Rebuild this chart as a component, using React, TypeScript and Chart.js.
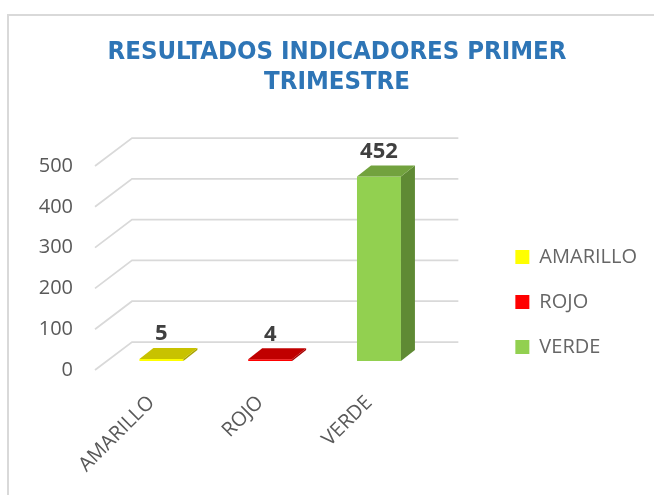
import React, { useEffect, useRef } from 'react';
import { Chart, registerables } from 'chart.js';

Chart.register(...registerables);

// ---- data ----
const categories = ['AMARILLO', 'ROJO', 'VERDE'];
const values = [5, 4, 452];
const frontColors = ['#FFFF00', '#FF0000', '#92D050'];
const topColors = ['#C8C200', '#C00000', '#72A23E'];
const sideColors = ['#A9A400', '#A30000', '#5F8A34'];
const yTicks = [0, 100, 200, 300, 400, 500];
const titleLines = ['RESULTADOS INDICADORES PRIMER', 'TRIMESTRE'];

// ---- pseudo 3D geometry (styling) ----
const WALL_DX = 37;
const WALL_DY = -28;
const BAR_SHIFT_X = 12;
const BAR_SHIFT_Y = -9;
const DEPTH_X = 14;
const DEPTH_Y = -11;

const pseudo3d = {
  id: 'pseudo3d',
  beforeDraw(chart: any) {
    const { ctx } = chart;
    ctx.save();
    ctx.strokeStyle = '#D9D9D9';
    ctx.lineWidth = 2;
    ctx.strokeRect(8, 15, 1000, 1000);
    ctx.restore();
  },
  beforeDatasetsDraw(chart: any) {
    const { ctx, chartArea, scales } = chart;
    const y = scales.y;
    ctx.save();
    ctx.strokeStyle = '#D9D9D9';
    ctx.lineWidth = 1.75;
    yTicks.forEach((v) => {
      const py = y.getPixelForValue(v);
      ctx.beginPath();
      ctx.moveTo(chartArea.left, py);
      ctx.lineTo(chartArea.left + WALL_DX, py + WALL_DY);
      ctx.lineTo(chartArea.right + WALL_DX, py + WALL_DY);
      ctx.stroke();
    });
    ctx.restore();
    ctx.save();
    ctx.translate(BAR_SHIFT_X, BAR_SHIFT_Y);
  },
  afterDatasetsDraw(chart: any) {
    const { ctx } = chart;
    const meta = chart.getDatasetMeta(0);
    meta.data.forEach((el: any, i: number) => {
      const { x, y, base, width } = el.getProps(['x', 'y', 'base', 'width'], true);
      const x0 = x - width / 2;
      const x1 = x + width / 2;
      // side face
      ctx.fillStyle = sideColors[i];
      ctx.beginPath();
      ctx.moveTo(x1, y);
      ctx.lineTo(x1 + DEPTH_X, y + DEPTH_Y);
      ctx.lineTo(x1 + DEPTH_X, base + DEPTH_Y);
      ctx.lineTo(x1, base);
      ctx.closePath();
      ctx.fill();
      // top face
      ctx.fillStyle = topColors[i];
      ctx.beginPath();
      ctx.moveTo(x0, y);
      ctx.lineTo(x1, y);
      ctx.lineTo(x1 + DEPTH_X, y + DEPTH_Y);
      ctx.lineTo(x0 + DEPTH_X, y + DEPTH_Y);
      ctx.closePath();
      ctx.fill();
      // value label
      ctx.fillStyle = '#404040';
      ctx.font = 'bold 22px "Open Sans", sans-serif';
      ctx.textAlign = 'center';
      ctx.textBaseline = 'middle';
      ctx.fillText(String(values[i]), x, y - 25);
    });
    ctx.restore();
  },
};

export default function App() {
  const ref = useRef<HTMLCanvasElement>(null);
  useEffect(() => {
    document.body.style.margin = '0';
    Chart.defaults.font.family = '"Open Sans", sans-serif';
    const chart = new Chart(ref.current as HTMLCanvasElement, {
      type: 'bar',
      data: {
        labels: categories,
        datasets: [
          {
            label: 'Indicadores',
            data: values,
            backgroundColor: frontColors,
            borderWidth: 0,
            categoryPercentage: 1,
            barPercentage: 0.404,
            clip: false as any,
          },
        ],
      },
      options: {
        responsive: false,
        animation: false,
        layout: { padding: { left: 27, right: 7, top: 0, bottom: 0 } },
        plugins: {
          title: {
            display: true,
            text: titleLines,
            color: '#2E75B6',
            font: {
              family: '"DejaVu Sans Condensed", sans-serif',
              size: 25.5,
              weight: 'bold',
              lineHeight: '30px',
            },
            padding: { top: 37, bottom: 69 },
          },
          legend: {
            position: 'right',
            align: 'start',
            maxWidth: 300,
            title: {
              display: true,
              text: '',
              font: { size: 10, lineHeight: 1 },
              padding: { top: 212, bottom: 0 },
            },
            labels: {
              boxWidth: 14,
              boxHeight: 14,
              padding: 25,
              color: '#595959',
              font: { size: 20 },
              generateLabels: () =>
                categories.map((c, i) => ({
                  text: c,
                  fillStyle: frontColors[i],
                  strokeStyle: frontColors[i],
                  lineWidth: 0,
                  hidden: false,
                  index: i,
                  datasetIndex: 0,
                })),
            },
          },
          tooltip: { enabled: false },
        },
        scales: {
          x: {
            grid: { display: false, drawTicks: false },
            border: { display: false },
            ticks: {
              color: '#595959',
              font: { size: 20 },
              maxRotation: 45,
              minRotation: 45,
              padding: 21,
              labelOffset: 2,
            },
            afterFit: (s: any) => {
              s.height = 125;
            },
          },
          y: {
            min: 0,
            max: 500,
            grid: { display: false, drawTicks: false },
            border: { display: false },
            ticks: { stepSize: 100, color: '#595959', font: { size: 20 }, padding: 22 },
            afterFit: (s: any) => {
              s.width = 68;
            },
          },
          pad: {
            type: 'linear',
            position: 'right',
            grid: { display: false, drawTicks: false },
            border: { display: false },
            ticks: { display: false },
            afterFit: (s: any) => {
              s.width = 69;
            },
          },
        },
      } as any,
      plugins: [pseudo3d],
    });
    return () => chart.destroy();
  }, []);
  return (
    <div style={{ width: 654, height: 495 }}>
      <canvas ref={ref} width={654} height={495} style={{ display: 'block' }} />
    </div>
  );
}
